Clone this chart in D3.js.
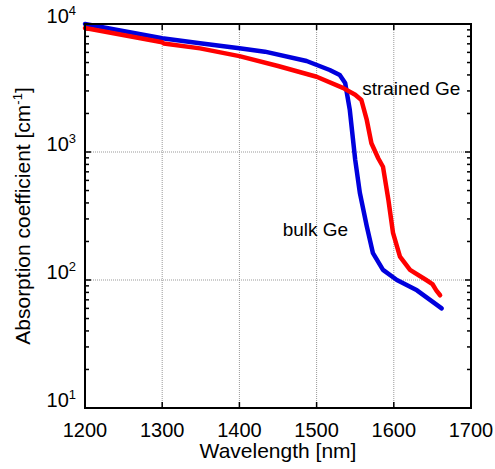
<!DOCTYPE html>
<head>
<meta charset="utf-8">
<title>Absorption coefficient of bulk and strained Ge</title>
<script src="https://d3js.org/d3.v7.min.js"></script>
<style>
body {
  margin: 0;
  background: #fff;
  font-family: "Liberation Sans", Arial, sans-serif;
}
svg text { fill: #000; }
.grid line {
  stroke: #999;
  stroke-width: 1px;
  stroke-dasharray: 1,1;
}
.tick-mark { stroke: #000; stroke-width: 1.5px; }
.frame { fill: none; stroke: #000; stroke-width: 2px; }
.curve { fill: none; stroke-width: 4.5px; stroke-linejoin: round; stroke-linecap: round; }
</style>
</head>
<body>
<script>

// wavelength [nm] / absorption [cm^-1]
const bulkWl  = [1200, 1300, 1349, 1400, 1433, 1487, 1517, 1530, 1537, 1543, 1550, 1556, 1565, 1573, 1586, 1604, 1630, 1662];
const bulkAbs = [10000, 7730, 7070, 6460, 6080, 5140, 4370, 3990, 3460, 2130, 870, 480, 263, 162, 120, 100, 83, 60];

const strainWl  = [1200, 1300, 1302, 1349, 1400, 1450, 1500, 1534, 1550, 1558, 1565, 1571, 1580, 1586, 1593, 1599, 1608, 1621, 1642, 1650, 1655, 1660];
const strainAbs = [9300, 7200, 7050, 6450, 5610, 4700, 3870, 3170, 2800, 2550, 1780, 1170, 890, 767, 422, 233, 152, 120, 100, 93, 83, 76];

const xTicks = [1200, 1300, 1400, 1500, 1600, 1700];
const yExp = [1, 2, 3, 4];

const width = 495, height = 469;
const margin = {top: 24, right: 24, bottom: 61, left: 85};
const iw = width - margin.left - margin.right,
  ih = height - margin.top - margin.bottom;

const x = d3.scaleLinear().domain([1200, 1700]).range([0, iw]);
const y = d3.scaleLog().domain([10, 10000]).range([ih, 0]);

const svg = d3.select('body').append('svg')
  .attr('width', width)
  .attr('height', height);

const g = svg.append('g')
  .attr('transform', 'translate(' + margin.left + ',' + margin.top + ')');

// grid
const grid = g.append('g').attr('class', 'grid');
grid.selectAll('.gx').data(xTicks.slice(1, -1)).enter().append('line')
  .attr('x1', d => x(d)).attr('x2', d => x(d))
  .attr('y1', 0).attr('y2', ih);
grid.selectAll('.gy').data(yExp.slice(1, -1)).enter().append('line')
  .attr('x1', 0).attr('x2', iw)
  .attr('y1', d => y(Math.pow(10, d))).attr('y2', d => y(Math.pow(10, d)));

// ticks on all four sides, pointing in
const ticks = g.append('g');
xTicks.forEach(t => {
  ticks.append('line').attr('class', 'tick-mark')
    .attr('x1', x(t)).attr('x2', x(t)).attr('y1', ih).attr('y2', ih - 6);
  ticks.append('line').attr('class', 'tick-mark')
    .attr('x1', x(t)).attr('x2', x(t)).attr('y1', 0).attr('y2', 6);
});
y.ticks().forEach(t => {
  const major = Math.abs(Math.log10(t) - Math.round(Math.log10(t))) < 1e-9;
  const len = major ? 6 : 4;
  ticks.append('line').attr('class', 'tick-mark')
    .attr('x1', 0).attr('x2', len).attr('y1', y(t)).attr('y2', y(t));
  ticks.append('line').attr('class', 'tick-mark')
    .attr('x1', iw).attr('x2', iw - len).attr('y1', y(t)).attr('y2', y(t));
});

// curves
const line = d3.line()
  .x(d => x(d[0]))
  .y(d => y(d[1]));

g.append('path').attr('class', 'curve')
  .attr('stroke', '#0000dd')
  .attr('d', line(d3.zip(bulkWl, bulkAbs)));

g.append('path').attr('class', 'curve')
  .attr('stroke', '#ff0000')
  .attr('d', line(d3.zip(strainWl, strainAbs)));

g.append('rect').attr('class', 'frame')
  .attr('width', iw).attr('height', ih);

// tick labels
g.selectAll('.xl').data(xTicks).enter().append('text')
  .attr('x', d => x(d))
  .attr('y', ih + 29)
  .attr('text-anchor', 'middle')
  .style('font-size', '20px')
  .text(d => d);

const yl = g.selectAll('.yl').data(yExp).enter().append('text')
  .attr('x', -9)
  .attr('y', d => y(Math.pow(10, d)) - 1)
  .attr('text-anchor', 'end')
  .style('font-size', '20px');
yl.append('tspan').text('10');
yl.append('tspan').attr('dy', '-8').style('font-size', '13px').text(d => d);

// axis titles
svg.append('text')
  .attr('x', margin.left + iw / 2)
  .attr('y', 458)
  .attr('text-anchor', 'middle')
  .style('font-size', '21px')
  .text('Wavelength [nm]');

const yt = svg.append('text')
  .attr('transform', 'translate(30,' + (margin.top + ih / 2) + ') rotate(-90)')
  .attr('text-anchor', 'middle')
  .style('font-size', '21px');
yt.append('tspan').text('Absorption coefficient [cm');
yt.append('tspan').attr('dy', '-8').style('font-size', '13px').text('-1');
yt.append('tspan').attr('dy', '8').text(']');

// curve labels
g.append('text')
  .attr('x', x(1559))
  .attr('y', 95 - margin.top)
  .style('font-size', '19px')
  .text('strained Ge');

g.append('text')
  .attr('x', x(1456))
  .attr('y', 236 - margin.top)
  .style('font-size', '19px')
  .text('bulk Ge');

</script>
</body>
